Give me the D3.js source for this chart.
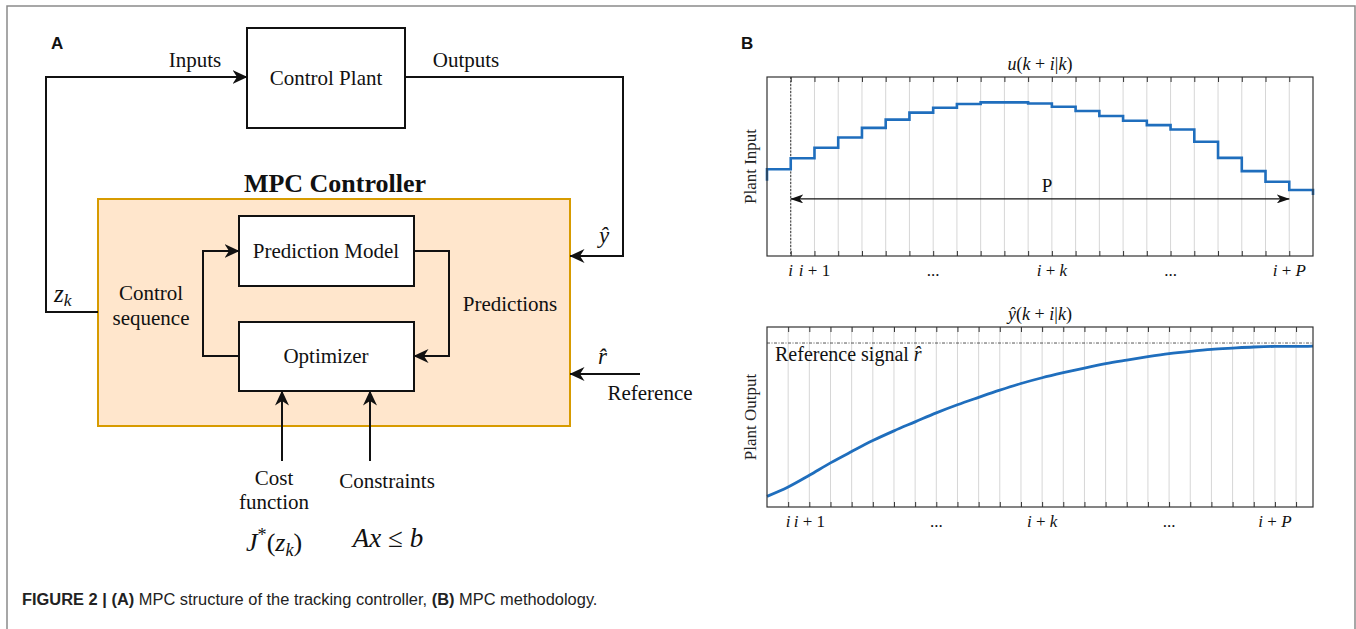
<!DOCTYPE html>
<html>
<head>
<meta charset="utf-8">
<script src="https://cdn.jsdelivr.net/npm/d3@7"></script>
<style>
  html, body { margin: 0; padding: 0; background: #fff; }
  svg { display: block; }
</style>
</head>
<body>
<script>
// ---------------- DATA ----------------
// Panel B (top): plant input u(k+i|k), piecewise-constant value for each interval n = 0..22 (fraction of axis height)
const inputSteps = [0.485, 0.546, 0.605, 0.662, 0.716, 0.762, 0.801, 0.828, 0.849, 0.858, 0.858, 0.852,
                    0.834, 0.810, 0.782, 0.756, 0.731, 0.707, 0.638, 0.548, 0.474, 0.415, 0.369];
const inputBefore = 0.42;   // value just before the window (left edge)
const inputAfter = 0.341;   // value just after the window (right edge)
const inputDomain = [0, 23];
const inputTickIdx = [1,2,3,4,5,6,7,8,9,10,11,12,13,14,15,16,17,18,19,20,21,22];
const horizonArrowY = 0.319;
const horizonFrom = 1, horizonTo = 22;

// Panel B (bottom): predicted output ŷ(k+i|k)
const outputX = [0,1,2,3,4,5,6,7,8,9,10,11,12,13,14,15,16,17,18,19,20,21,22,23,24,25,25.8];
const outputY = [0.059,0.111,0.176,0.245,0.308,0.369,0.423,0.473,0.523,0.568,0.609,0.649,0.686,0.718,
                 0.746,0.772,0.796,0.816,0.835,0.852,0.865,0.876,0.883,0.889,0.892,0.892,0.894];
const outputDomain = [0, 25.8];
const outputTickIdx = [1,2,3,4,5,6,7,8,9,10,11,12,13,14,15,16,17,18,19,20,21,22,23,24,25];
const referenceLevel = 0.911;

// Tick labels (index -> math label parts; "it" = italic)
const inputTickLabels = [
  {n: 1,  parts: [{t: "i", it: true}]},
  {n: 2,  parts: [{t: "i", it: true}, {t: " + "}, {t: "1"}]},
  {n: 7,  parts: [{t: "..."}]},
  {n: 12, parts: [{t: "i", it: true}, {t: " + "}, {t: "k", it: true}]},
  {n: 17, parts: [{t: "..."}]},
  {n: 22, parts: [{t: "i", it: true}, {t: " + "}, {t: "P", it: true}]}
];
const outputTickLabels = [
  {n: 1,  parts: [{t: "i", it: true}]},
  {n: 2,  parts: [{t: "i", it: true}, {t: " + "}, {t: "1"}]},
  {n: 8,  parts: [{t: "..."}]},
  {n: 13, parts: [{t: "i", it: true}, {t: " + "}, {t: "k", it: true}]},
  {n: 19, parts: [{t: "..."}]},
  {n: 24, parts: [{t: "i", it: true}, {t: " + "}, {t: "P", it: true}]}
];

// ---------------- SETUP ----------------
const W = 1356, H = 629;
const SERIF = "'Liberation Serif', 'Times New Roman', Times, serif";
const SANS = "'Liberation Sans', Arial, Helvetica, sans-serif";
const BLUE = "#1f6ebd";

const svg = d3.select("body").append("svg").attr("width", W).attr("height", H);
svg.append("rect").attr("width", W).attr("height", H).attr("fill", "#fff");

const defs = svg.append("defs");
defs.append("marker").attr("id", "arrA")
  .attr("viewBox", "0 0 15 15").attr("refX", 14.5).attr("refY", 7.5)
  .attr("markerWidth", 15).attr("markerHeight", 15)
  .attr("markerUnits", "userSpaceOnUse").attr("orient", "auto")
  .append("path").attr("d", "M0,0.5 L15,7.5 L0,14.5 L4.5,7.5 Z").attr("fill", "#111");
defs.append("marker").attr("id", "arrP")
  .attr("viewBox", "0 0 13 9").attr("refX", 12.5).attr("refY", 4.5)
  .attr("markerWidth", 13).attr("markerHeight", 9)
  .attr("markerUnits", "userSpaceOnUse").attr("orient", "auto-start-reverse")
  .append("path").attr("d", "M0,0 L13,4.5 L0,9 L3.5,4.5 Z").attr("fill", "#111");

// outer figure border
svg.append("path").attr("d", `M7,${H} L7,6 L1355,6 L1355,${H}`)
  .attr("fill", "none").attr("stroke", "#8a8a8a").attr("stroke-width", 1.5);

function mathText(g, x, y, parts, size, anchor) {
  const t = g.append("text").attr("x", x).attr("y", y)
    .attr("font-family", SERIF).attr("font-size", size)
    .attr("text-anchor", anchor || "middle").attr("fill", "#111");
  parts.forEach(p => {
    const ts = t.append("tspan").text(p.t);
    if (p.it) ts.attr("font-style", "italic");
    if (p.sub) ts.attr("font-size", size * 0.7).attr("dy", p.dy || size * 0.25);
    if (p.sup) ts.attr("font-size", size * 0.7).attr("dy", p.dy || -size * 0.38);
    if (p.back) ts.attr("dy", p.back);
  });
  t.attr("xml:space", "preserve").style("white-space", "pre");
  return t;
}

// ---------------- PANEL A ----------------
const A = svg.append("g");
A.append("text").attr("x", 51).attr("y", 49).text("A")
  .attr("font-family", SANS).attr("font-weight", "bold").attr("font-size", 17).attr("fill", "#111");

const lineStyle = s => s.attr("fill", "none").attr("stroke", "#111").attr("stroke-width", 2);

// MPC controller box
A.append("rect").attr("x", 98).attr("y", 199).attr("width", 472).attr("height", 227)
  .attr("fill", "#ffe6cc").attr("stroke", "#d79b00").attr("stroke-width", 2);
// Control plant
A.append("rect").attr("x", 247).attr("y", 28).attr("width", 158).attr("height", 100)
  .attr("fill", "#fff").attr("stroke", "#111").attr("stroke-width", 2);
// Prediction model & optimizer
A.append("rect").attr("x", 239).attr("y", 216).attr("width", 175).attr("height", 70)
  .attr("fill", "#fff").attr("stroke", "#111").attr("stroke-width", 2);
A.append("rect").attr("x", 239).attr("y", 322).attr("width", 175).attr("height", 69)
  .attr("fill", "#fff").attr("stroke", "#111").attr("stroke-width", 2);

// connectors
lineStyle(A.append("path").attr("d", "M98,312 L46,312 L46,77 L247,77")).attr("marker-end", "url(#arrA)");
lineStyle(A.append("path").attr("d", "M405,77 L623,77 L623,256 L570,256")).attr("marker-end", "url(#arrA)");
lineStyle(A.append("path").attr("d", "M640,374 L570,374")).attr("marker-end", "url(#arrA)");
lineStyle(A.append("path").attr("d", "M239,356 L203,356 L203,251 L239,251")).attr("marker-end", "url(#arrA)");
lineStyle(A.append("path").attr("d", "M414,251 L449,251 L449,356 L414,356")).attr("marker-end", "url(#arrA)");
lineStyle(A.append("path").attr("d", "M282,461 L282,391")).attr("marker-end", "url(#arrA)");
lineStyle(A.append("path").attr("d", "M370,461 L370,391")).attr("marker-end", "url(#arrA)");

const dtext = (x, y, s, opts = {}) => A.append("text").attr("x", x).attr("y", y).text(s)
  .attr("font-family", SERIF).attr("font-size", opts.size || 21)
  .attr("font-weight", opts.bold ? "bold" : null)
  .attr("text-anchor", "middle").attr("fill", "#111");

dtext(195, 67, "Inputs");
dtext(466, 67, "Outputs");
dtext(326, 85, "Control Plant");
dtext(335, 192, "MPC Controller", {bold: true, size: 26});
dtext(326, 258, "Prediction Model");
dtext(326, 363, "Optimizer");
dtext(151, 300, "Control");
dtext(151, 325, "sequence");
dtext(510, 311, "Predictions");
dtext(650, 400, "Reference");
dtext(274, 485, "Cost");
dtext(274, 509, "function");
dtext(387, 488, "Constraints");

mathText(A, 599, 243, [{t: "ŷ", it: true}], 23, "start");
mathText(A, 598, 364, [{t: "r̂", it: true}], 23, "start");
mathText(A, 54, 302, [{t: "z", it: true}, {t: "k", it: true, sub: true, dy: 4}], 25, "start");
mathText(A, 246, 551, [{t: "J", it: true}, {t: "*", sup: true, dy: -10}, {t: "(", back: 10},
  {t: "z", it: true}, {t: "k", it: true, sub: true, dy: 5}, {t: ")", back: -5}], 26, "start");
mathText(A, 388, 547, [{t: "Ax", it: true}, {t: " ≤ "}, {t: "b", it: true}], 27, "middle");

// ---------------- PANEL B ----------------
svg.append("text").attr("x", 741).attr("y", 49).text("B")
  .attr("font-family", SANS).attr("font-weight", "bold").attr("font-size", 17).attr("fill", "#111");

const frameX0 = 767, frameX1 = 1313;

function drawPanel(top, bottom, domain, tickIdx, tickLabels, titleParts, yLabel) {
  const g = svg.append("g");
  const x = d3.scaleLinear().domain(domain).range([frameX0, frameX1]);
  const y = d3.scaleLinear().domain([0, 1]).range([bottom, top]);
  // grid
  g.selectAll("line.grid").data(tickIdx).join("line").attr("class", "grid")
    .attr("x1", d => x(d)).attr("x2", d => x(d)).attr("y1", top).attr("y2", bottom)
    .attr("stroke", "#d6d6d6").attr("stroke-width", 1);
  // axes ticks (top and bottom, inward)
  const axB = d3.axisBottom(x).tickValues(tickIdx).tickSize(-5).tickFormat("");
  const axT = d3.axisTop(x).tickValues(tickIdx).tickSize(-5).tickFormat("");
  const gb = g.append("g").attr("transform", `translate(0,${bottom})`).call(axB);
  const gt = g.append("g").attr("transform", `translate(0,${top})`).call(axT);
  [gb, gt].forEach(a => { a.select(".domain").remove(); a.selectAll("line").attr("stroke", "#333"); });
  // tick labels
  tickLabels.forEach(l => mathText(g, x(l.n), bottom + 20, l.parts, 17, "middle"));
  // title
  mathText(g, (frameX0 + frameX1) / 2, top - 7, titleParts, 18, "middle");
  // y label
  g.append("text").attr("transform", `translate(756,${(top + bottom) / 2}) rotate(-90)`)
    .attr("text-anchor", "middle").attr("font-family", SERIF).attr("font-size", 17)
    .attr("fill", "#222").text(yLabel);
  return {g, x, y, top, bottom};
}

// top chart
const P1 = drawPanel(77, 256, inputDomain, inputTickIdx, inputTickLabels,
  [{t: "u", it: true}, {t: "("}, {t: "k", it: true}, {t: " + "}, {t: "i", it: true}, {t: "|"}, {t: "k", it: true}, {t: ")"}],
  "Plant Input");
// dotted marker at current step
P1.g.append("line").attr("x1", P1.x(horizonFrom)).attr("x2", P1.x(horizonFrom))
  .attr("y1", P1.top).attr("y2", P1.bottom)
  .attr("stroke", "#333").attr("stroke-width", 1).attr("stroke-dasharray", "2,1.5");
// step line
const stepPts = [{x: inputDomain[0], y: inputBefore}]
  .concat(inputSteps.map((v, i) => ({x: i, y: v})))
  .concat([{x: inputDomain[1], y: inputSteps[inputSteps.length - 1]}, {x: inputDomain[1], y: inputAfter}]);
P1.g.append("path").datum(stepPts)
  .attr("d", d3.line().x(d => P1.x(d.x)).y(d => P1.y(d.y)).curve(d3.curveStepAfter))
  .attr("fill", "none").attr("stroke", BLUE).attr("stroke-width", 2.6);
// horizon arrow
P1.g.append("line").attr("x1", P1.x(horizonFrom)).attr("x2", P1.x(horizonTo))
  .attr("y1", P1.y(horizonArrowY)).attr("y2", P1.y(horizonArrowY))
  .attr("stroke", "#111").attr("stroke-width", 1.2)
  .attr("marker-start", "url(#arrP)").attr("marker-end", "url(#arrP)");
P1.g.append("text").attr("x", P1.x(11.8)).attr("y", P1.y(horizonArrowY) - 7)
  .attr("text-anchor", "middle").attr("font-family", SERIF).attr("font-size", 19)
  .attr("fill", "#111").text("P");
// frame
P1.g.append("rect").attr("x", frameX0).attr("y", P1.top).attr("width", frameX1 - frameX0)
  .attr("height", P1.bottom - P1.top).attr("fill", "none").attr("stroke", "#333").attr("stroke-width", 1.2);

// bottom chart
const P2 = drawPanel(327, 507, outputDomain, outputTickIdx, outputTickLabels,
  [{t: "ŷ", it: true}, {t: "("}, {t: "k", it: true}, {t: " + "}, {t: "i", it: true}, {t: "|"}, {t: "k", it: true}, {t: ")"}],
  "Plant Output");
P2.g.append("line").attr("x1", frameX0).attr("x2", frameX1)
  .attr("y1", P2.y(referenceLevel)).attr("y2", P2.y(referenceLevel))
  .attr("stroke", "#555").attr("stroke-width", 1).attr("stroke-dasharray", "3,1.5,1,1.5");
mathText(P2.g, 775, 361, [{t: "Reference signal "}, {t: "r̂", it: true}], 20, "start");
const outPts = outputX.map((v, i) => ({x: v, y: outputY[i]}));
P2.g.append("path").datum(outPts)
  .attr("d", d3.line().x(d => P2.x(d.x)).y(d => P2.y(d.y)).curve(d3.curveMonotoneX))
  .attr("fill", "none").attr("stroke", BLUE).attr("stroke-width", 2.8);
P2.g.append("rect").attr("x", frameX0).attr("y", P2.top).attr("width", frameX1 - frameX0)
  .attr("height", P2.bottom - P2.top).attr("fill", "none").attr("stroke", "#333").attr("stroke-width", 1.2);

// ---------------- CAPTION ----------------
const cap = svg.append("text").attr("x", 22).attr("y", 605)
  .attr("font-family", SANS).attr("font-size", 17).attr("fill", "#222");
[["FIGURE 2 | ", true], ["(A)", true], [" MPC structure of the tracking controller, ", false],
 ["(B)", true], [" MPC methodology.", false]].forEach(([s, b]) => {
  const ts = cap.append("tspan").text(s);
  if (b) ts.attr("font-weight", "bold");
});
cap.attr("xml:space", "preserve").style("white-space", "pre");
const cw = cap.node().getComputedTextLength();
const targetW = 576;
cap.attr("transform", `translate(22,0) scale(${targetW / cw},1) translate(-22,0)`);
</script>
</body>
</html>
